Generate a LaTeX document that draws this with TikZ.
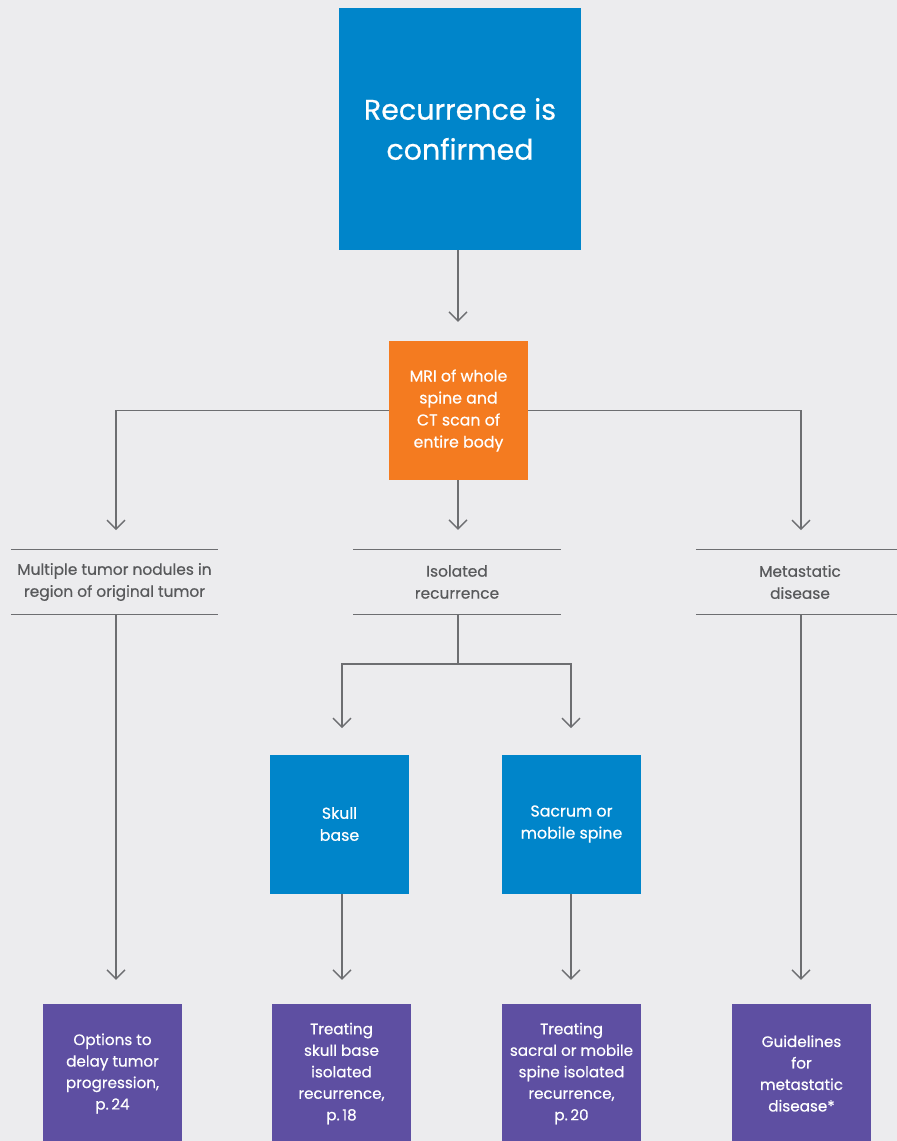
\documentclass[tikz,border=0pt]{standalone}
\usepackage{fontspec}
\setmainfont{Poppins}[FakeBold=0.5]
\usetikzlibrary{arrows.meta,calc}
\definecolor{bg}{HTML}{ECECEE}
\definecolor{mainblue}{HTML}{0085CA}
\definecolor{scanorange}{HTML}{F47B20}
\definecolor{resultpurple}{HTML}{5E4FA2}
\definecolor{wire}{HTML}{6D6E71}
\definecolor{labeltext}{HTML}{58595B}
\tikzset{
  x=1pt, y=-1pt,
  box/.style={minimum width=139pt, minimum height=139pt, inner sep=0pt,
    align=center, text=white, font=\fontsize{15.8}{22}\selectfont},
  bluebox/.style={box, fill=mainblue},
  orangebox/.style={box, fill=scanorange},
  purplebox/.style={box, fill=resultpurple, font=\fontsize{15.2}{21.5}\selectfont},
  branchlabel/.style={minimum width=207pt, minimum height=64pt, inner sep=0pt,
    align=center, text=labeltext, font=\fontsize{15.4}{22}\selectfont},
  rule/.style={draw=wire, line width=1.2pt},
  wireline/.style={draw=wire, line width=1.3pt},
  arr/.style={wireline, -{Straight Barb[length=9pt, width=18pt, line width=1.3pt]}, shorten >=20pt},
}
\begin{document}
\begin{tikzpicture}
\clip (0,0) rectangle (897,1141);
\fill[bg] (0,0) rectangle (897,1141);

% start and scan
\node[bluebox, minimum width=242pt, minimum height=242pt,
  font=\fontsize{28.5}{40}\selectfont] (start) at (460,129) {Recurrence is\\confirmed};
\node[orangebox] (scan) at (458.5,410.5) {MRI of whole\\spine and\\CT scan of\\entire body};

% branch labels with rules above and below
\node[branchlabel] (multi) at (114.5,582) {Multiple tumor nodules in\\region of original tumor};
\node[branchlabel] (isol) at (457,582) {Isolated\\recurrence};
\node[branchlabel, minimum width=208pt] (meta) at (800,582) {Metastatic\\disease};
\foreach \n in {multi,isol,meta}{
  \draw[rule] (\n.north west) -- (\n.north east);
  \draw[rule] (\n.south west) -- (\n.south east);
}

% site boxes
\node[bluebox] (skull) at (339.5,824) {Skull\\base};
\node[bluebox] (sacrum) at (571.5,824) {Sacrum or\\mobile spine};

% outcome boxes
\node[purplebox] (delay) at (112.5,1073.5) {Options to\\delay tumor\\progression,\\p.\,24};
\node[purplebox] (treatskull) at (341.5,1073.5) {Treating\\skull base\\isolated\\recurrence,\\p.\,18};
\node[purplebox] (treatspine) at (571.5,1073.5) {Treating\\sacral or mobile\\spine isolated\\recurrence,\\p.\,20};
\node[purplebox] (guide) at (801.5,1073.5) {Guidelines\\for\\metastatic\\disease*};

% connector anchor points
\coordinate (trunk) at (458,480);
\coordinate (multiIn) at (116,550);
\coordinate (metaIn) at (801,550);
\coordinate (multiOut) at (116,614);
\coordinate (metaOut) at (801,614);
\coordinate (isolOut) at (458,614);
\coordinate (split) at (458,664);
\coordinate (skullIn) at (342,755);
\coordinate (sacrumIn) at (571,755);

% connectors
\draw[arr, shorten >=19pt] (start.south -| trunk) -- (scan.north -| trunk);
\draw[arr] (trunk) -- (isol.north -| trunk);
\draw[arr] (scan.west) -| (multiIn);
\draw[arr] (scan.east) -| (metaIn);
\draw[wireline] (isolOut) -- (split);
\draw[arr, shorten >=27pt] (split) -| (skullIn);
\draw[arr, shorten >=27pt] (split) -| (sacrumIn);
\draw[arr, shorten >=24pt] (multiOut) -- (multiOut |- delay.north);
\draw[arr, shorten >=24pt] (metaOut) -- (metaOut |- guide.north);
\draw[arr, shorten >=24pt] (skull.south -| skullIn) -- (skullIn |- treatskull.north);
\draw[arr, shorten >=24pt] (sacrum.south -| sacrumIn) -- (sacrumIn |- treatspine.north);
\end{tikzpicture}
\end{document}
